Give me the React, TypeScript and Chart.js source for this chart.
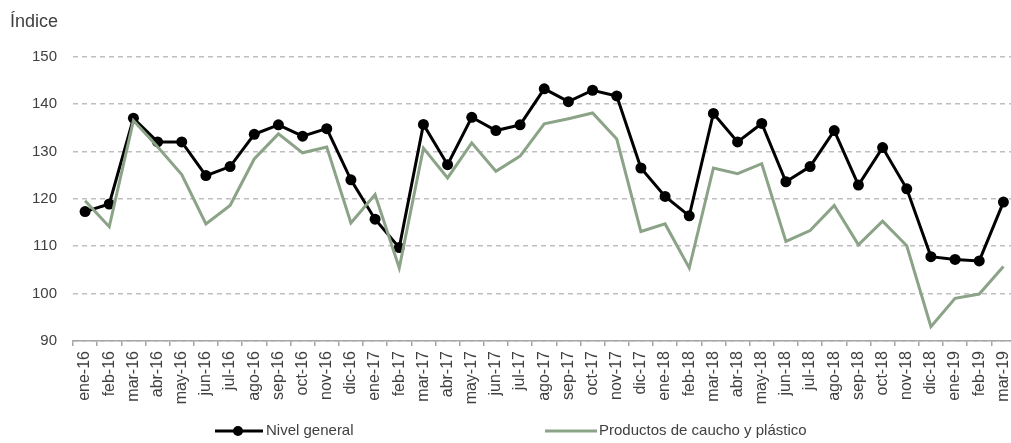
import React, { useEffect, useRef } from "react";
import { Chart, registerables } from "chart.js";

Chart.register(...registerables);

const categories = [
  "ene-16", "feb-16", "mar-16", "abr-16", "may-16", "jun-16", "jul-16", "ago-16", "sep-16", "oct-16", "nov-16", "dic-16",
  "ene-17", "feb-17", "mar-17", "abr-17", "may-17", "jun-17", "jul-17", "ago-17", "sep-17", "oct-17", "nov-17", "dic-17",
  "ene-18", "feb-18", "mar-18", "abr-18", "may-18", "jun-18", "jul-18", "ago-18", "sep-18", "oct-18", "nov-18", "dic-18",
  "ene-19", "feb-19", "mar-19",
];

const nivelGeneral = [
  117.3, 118.9, 137.0, 132.0, 132.0, 124.9, 126.8, 133.6, 135.6, 133.2, 134.8, 124.0,
  115.7, 109.7, 135.7, 127.2, 137.2, 134.4, 135.6, 143.2, 140.5, 142.9, 141.7, 126.5,
  120.5, 116.4, 138.0, 132.0, 135.9, 123.6, 126.8, 134.4, 122.9, 130.8, 122.1, 107.8,
  107.2, 106.9, 119.3,
];

const cauchoPlastico = [
  119.6, 114.1, 136.5, 131.0, 125.1, 114.7, 118.6, 128.4, 133.7, 129.7, 130.9, 114.9,
  120.9, 105.4, 130.7, 124.4, 131.8, 125.8, 129.0, 135.8, 136.9, 138.1, 132.6, 113.1,
  114.7, 105.4, 126.5, 125.3, 127.4, 111.0, 113.3, 118.6, 110.3, 115.3, 110.1, 93.0,
  99.0, 99.9, 105.7,
];

const yTicks = [90, 100, 110, 120, 130, 140, 150];

const seriesNames = ["Nivel general", "Productos de caucho y plástico"];
const seriesColors = ["#000000", "#8BA386"];

const FONT = "'Liberation Sans', Arial, Helvetica, sans-serif";
const TEXT = "#404040";

const legendPlugin = {
  id: "customLegend",
  afterDraw(chart: any) {
    const ctx = chart.ctx as CanvasRenderingContext2D;
    const y = 431;
    ctx.save();
    ctx.font = `15px ${FONT}`;
    ctx.textBaseline = "middle";
    ctx.textAlign = "left";
    // Nivel general
    ctx.strokeStyle = seriesColors[0];
    ctx.fillStyle = seriesColors[0];
    ctx.lineWidth = 3;
    ctx.beginPath();
    ctx.moveTo(215, y);
    ctx.lineTo(263, y);
    ctx.stroke();
    ctx.beginPath();
    ctx.arc(238, y, 5, 0, Math.PI * 2);
    ctx.fill();
    ctx.fillStyle = TEXT;
    ctx.fillText(seriesNames[0], 266, y);
    // Caucho
    ctx.strokeStyle = seriesColors[1];
    ctx.beginPath();
    ctx.moveTo(545, y);
    ctx.lineTo(597, y);
    ctx.stroke();
    ctx.fillStyle = TEXT;
    ctx.fillText(seriesNames[1], 599, y);
    ctx.restore();
  },
};

export default function App() {
  const ref = useRef<HTMLCanvasElement | null>(null);

  useEffect(() => {
    if (!ref.current) return;
    const chart = new Chart(ref.current, {
      type: "line",
      data: {
        labels: categories,
        datasets: [
          {
            label: seriesNames[0],
            data: nivelGeneral,
            borderColor: seriesColors[0],
            backgroundColor: seriesColors[0],
            borderWidth: 3,
            pointRadius: 5.5,
            pointBackgroundColor: seriesColors[0],
            pointBorderWidth: 0,
            tension: 0,
            order: 2,
          },
          {
            label: seriesNames[1],
            data: cauchoPlastico,
            borderColor: seriesColors[1],
            backgroundColor: seriesColors[1],
            borderWidth: 3,
            pointRadius: 0,
            tension: 0,
            order: 1,
          },
        ],
      },
      options: {
        responsive: false,
        animation: false,
        layout: { padding: { left: 10, right: 0, top: 0, bottom: 36 } },
        plugins: {
          legend: { display: false },
          tooltip: { enabled: false },
          title: {
            display: true,
            text: "Índice",
            align: "start",
            color: TEXT,
            font: { family: FONT, size: 18, weight: "normal" },
            padding: { top: 11, bottom: 24 },
          },
        },
        scales: {
          x: {
            type: "category",
            offset: true,
            grid: {
              display: true,
              offset: true,
              drawOnChartArea: false,
              drawTicks: true,
              tickLength: 5,
              color: "#a6a6a6",
              lineWidth: 1.5,
            },
            border: { display: true, color: "#a6a6a6", width: 1.5 },
            ticks: {
              autoSkip: false,
              minRotation: 90,
              maxRotation: 90,
              padding: 5,
              color: TEXT,
              font: { family: FONT, size: 16 },
            },
            afterFit(s: any) {
              s.height = 66;
              s.paddingRight = 0;
              s.paddingLeft = 0;
            },
          },
          y: {
            min: 90,
            max: 150,
            afterBuildTicks(s: any) {
              s.ticks = yTicks.map((v) => ({ value: v }));
            },
            grid: {
              color: "#bfbfbf",
              lineWidth: 1.5,
              drawTicks: false,
            },
            border: { display: false, dash: [5, 4] },
            ticks: {
              padding: 16,
              color: TEXT,
              font: { family: FONT, size: 15 },
            },
            afterFit(s: any) {
              s.width = 63;
            },
          },
        },
      },
      plugins: [legendPlugin],
    });
    return () => chart.destroy();
  }, []);

  return (
    <div style={{ position: "fixed", left: 0, top: 0, width: 1011, height: 443, background: "#fff", overflow: "hidden" }}>
      <canvas ref={ref} width={1021} height={443} />
    </div>
  );
}
